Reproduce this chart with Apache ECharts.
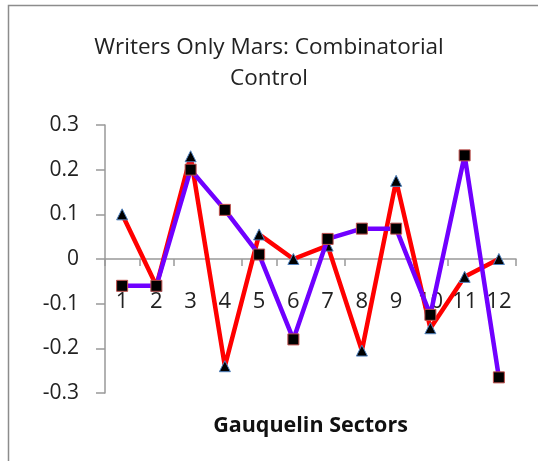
<!DOCTYPE html>
<html><head><meta charset="utf-8">
<script src="https://cdn.jsdelivr.net/npm/echarts@6/dist/echarts.min.js"></script>
<style>html,body{margin:0;padding:0;background:#fff}#c{width:538px;height:461px}</style>
</head><body><div id="c"></div>
<script>
const categories = ['1','2','3','4','5','6','7','8','9','10','11','12'];
const redTriangles = [0.1, -0.06, 0.23, -0.24, 0.055, 0.0, 0.03, -0.205, 0.175, -0.155, -0.04, 0.0];
const purpleSquares = [-0.06, -0.06, 0.2, 0.11, 0.01, -0.18, 0.045, 0.068, 0.068, -0.125, 0.232, -0.265];
const titleText = 'Writers Only Mars: Combinatorial\nControl';
const xAxisName = 'Gauquelin Sectors';

const chart = echarts.init(document.getElementById('c'));
const font = 'Open Sans';
chart.setOption({
  animation: false,
  backgroundColor: '#fff',
  graphic: [{type:'rect', shape:{x:8.5,y:5.5,width:600,height:600}, style:{fill:'none', stroke:'#8c8c8c', lineWidth:1.5}, silent:true}],
  title: {text: titleText, left: 'center', top: 27, textStyle:{fontFamily:font, fontWeight:'normal', fontSize:22.5, color:'#222', lineHeight:31}},
  grid: {left:105, right:22, top:125, bottom:68, containLabel:false, outerBoundsMode:'none'},
  xAxis: {
    type:'category', data: categories, boundaryGap:true,
    name: xAxisName, nameLocation:'middle', nameGap:22,
    nameTextStyle:{fontFamily:font, fontWeight:'bold', fontSize:21.5, color:'#111'},
    axisLine:{onZero:true, lineStyle:{color:'#999', width:1.5}},
    axisTick:{show:true, interval:0, length:7, lineStyle:{color:'#999', width:1.5}},
    axisLabel:{fontFamily:font, fontSize:22, color:'#222', margin:-102, interval:0},
    splitLine:{show:false}
  },
  yAxis: {
    type:'value', min:-0.3, max:0.3, interval:0.1,
    axisLine:{show:true, lineStyle:{color:'#999', width:1.5}},
    axisTick:{show:true, length:9, lineStyle:{color:'#999', width:1.5}},
    axisLabel:{fontFamily:font, fontSize:21, color:'#222', margin:26,
      formatter: v => { const r = Math.round(v*10)/10; return r === 0 ? '0' : String(r); }},
    splitLine:{show:false}
  },
  series: [
    {type:'line', data: redTriangles, symbol:'triangle', symbolSize:11,
      lineStyle:{color:'#ff0000', width:4.5}, itemStyle:{color:'#000', borderColor:'#4f81bd', borderWidth:1}, z:2},
    {type:'line', data: purpleSquares, symbol:'rect', symbolSize:11,
      lineStyle:{color:'#7000ff', width:4.5}, itemStyle:{color:'#000', borderColor:'#c0504d', borderWidth:1}, z:3}
  ]
});
</script></body></html>
